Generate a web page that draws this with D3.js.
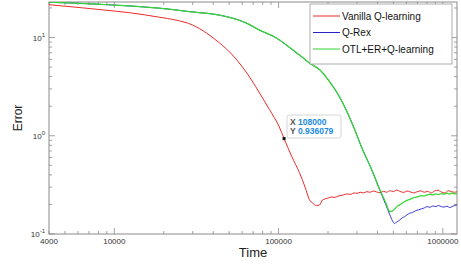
<!DOCTYPE html>
<html>
<head>
<meta charset="utf-8">
<script src="https://cdn.jsdelivr.net/npm/d3@7"></script>
<style>
  body { margin: 0; background: #fff; }
  svg { display: block; font-family: "Liberation Sans", Arial, sans-serif; }
</style>
</head>
<body>
<div id="chart"></div>
<script>
// series as [time, error] pairs
var vanilla = [
  [4000, 21.6], [10000, 18.6], [12350, 17.9], [18800, 16.1], [23500, 15.1],
  [30000, 13.4], [36400, 11.1], [43700, 8.8], [51700, 6.8], [60300, 5.0],
  [68400, 3.7], [76500, 2.73], [88100, 1.84], [101000, 1.23], [108000, 0.936],
  [120000, 0.62], [134000, 0.42], [145000, 0.3], [154000, 0.224], [162000, 0.205],
  [170000, 0.195], [178000, 0.198], [185000, 0.222], [200000, 0.232], [210000, 0.238],
  [220000, 0.236], [230000, 0.243], [240000, 0.247], [250000, 0.251], [262000, 0.256],
  [275000, 0.253], [288000, 0.262], [300000, 0.259], [315000, 0.266], [330000, 0.262],
  [345000, 0.27], [360000, 0.266], [378000, 0.274], [395000, 0.268], [415000, 0.263],
  [435000, 0.272], [455000, 0.266], [478000, 0.276], [500000, 0.27], [525000, 0.28],
  [550000, 0.271], [578000, 0.265], [605000, 0.274], [635000, 0.268], [665000, 0.262],
  [700000, 0.27], [735000, 0.275], [770000, 0.266], [810000, 0.272], [850000, 0.262],
  [890000, 0.274], [935000, 0.279], [980000, 0.268], [1030000, 0.262], [1080000, 0.276],
  [1130000, 0.27], [1180000, 0.266], [1220000, 0.27]
];

var qrex = [
  [4000, 22.9], [10000, 21.4], [18800, 19.9], [30000, 18.2], [43700, 16.9],
  [63800, 14.0], [76600, 11.88], [97200, 9.85], [122000, 7.45], [144000, 6.02],
  [154000, 5.5], [178000, 4.7], [205000, 3.53], [235000, 2.49], [283000, 1.29],
  [325000, 0.72], [369000, 0.452], [413000, 0.281], [449000, 0.2], [475000, 0.158],
  [495000, 0.135], [509000, 0.128], [525000, 0.133], [547000, 0.139], [565000, 0.146],
  [585000, 0.15], [605000, 0.157], [630000, 0.163], [655000, 0.166], [680000, 0.172],
  [710000, 0.176], [740000, 0.18], [770000, 0.184], [800000, 0.19], [835000, 0.187],
  [870000, 0.193], [905000, 0.19], [940000, 0.195], [980000, 0.19], [1020000, 0.188],
  [1060000, 0.192], [1100000, 0.186], [1140000, 0.19], [1180000, 0.195], [1220000, 0.198]
];

var otl = [
  [4000, 22.9], [10000, 21.4], [18800, 19.9], [30000, 18.2], [43700, 16.9],
  [63800, 14.0], [76600, 11.9], [97200, 9.9], [122000, 7.5], [144000, 6.05],
  [154000, 5.5], [178000, 4.7], [205000, 3.53], [235000, 2.49], [283000, 1.29],
  [325000, 0.72], [369000, 0.452], [413000, 0.283], [449000, 0.209], [475000, 0.169],
  [495000, 0.172], [510000, 0.18], [525000, 0.19], [547000, 0.198], [565000, 0.206],
  [585000, 0.214], [605000, 0.22], [630000, 0.226], [655000, 0.232], [680000, 0.236],
  [710000, 0.24], [740000, 0.246], [770000, 0.244], [800000, 0.25], [835000, 0.254],
  [870000, 0.25], [905000, 0.256], [940000, 0.252], [980000, 0.258], [1020000, 0.254],
  [1060000, 0.26], [1100000, 0.255], [1140000, 0.262], [1180000, 0.256], [1220000, 0.26]
];

var seriesNames = ['Vanilla Q-learning', 'Q-Rex', 'OTL+ER+Q-learning'];
var seriesColors = ['#ec2b2b', '#2323c8', '#33d633'];
var seriesWidths = [1, 0.9, 1.25];
var xTickValues = [4000, 10000, 100000, 1000000];
var yTickExps = [1, 0, -1];
var tipPoint = [108000, 0.936079];

var W = 461, H = 269;
var pL = 49, pR = 457, pT = 2, pB = 234;

var svg = d3.select('#chart').append('svg')
  .attr('width', W)
  .attr('height', H);

var x = d3.scaleLog().domain([4000, 1220000]).range([pL, pR]);
var y = d3.scaleLog().domain([0.1, 23]).range([pB, pT]);

var axisColor = '#8a8a8a';

// minor + major tick values
var xMinor = [];
[1000, 10000, 100000].forEach(function (d) {
  for (var k = 1; k < 10; k++) {
    var v = d * k;
    if (v >= 4000 && v <= 1220000) xMinor.push(v);
  }
});
xMinor.push(1000000);
var yMinor = [];
[0.1, 1, 10].forEach(function (d) {
  for (var k = 1; k < 10; k++) {
    var v = d * k;
    if (v >= 0.1 && v <= 23) yMinor.push(v);
  }
});

var axes = svg.append('g');
function isMajor(v) {
  var l = Math.log10(v);
  return Math.abs(l - Math.round(l)) < 1e-9;
}

xMinor.forEach(function (v) {
  var len = isMajor(v) ? 6 : 3;
  axes.append('line').attr('x1', x(v)).attr('x2', x(v)).attr('y1', pB).attr('y2', pB - len)
    .attr('stroke', axisColor).attr('stroke-width', 0.8);
  axes.append('line').attr('x1', x(v)).attr('x2', x(v)).attr('y1', pT).attr('y2', pT + len)
    .attr('stroke', axisColor).attr('stroke-width', 0.8);
});
yMinor.forEach(function (v) {
  var len = isMajor(v) ? 6 : 3;
  axes.append('line').attr('x1', pL).attr('x2', pL + len).attr('y1', y(v)).attr('y2', y(v))
    .attr('stroke', axisColor).attr('stroke-width', 0.8);
  axes.append('line').attr('x1', pR).attr('x2', pR - len).attr('y1', y(v)).attr('y2', y(v))
    .attr('stroke', axisColor).attr('stroke-width', 0.8);
});

axes.append('rect')
  .attr('x', pL).attr('y', pT)
  .attr('width', pR - pL).attr('height', pB - pT)
  .attr('fill', 'none').attr('stroke', axisColor).attr('stroke-width', 1);

// x tick labels
svg.append('g').selectAll('text')
  .data(xTickValues)
  .join('text')
  .attr('x', function (d) { return x(d); })
  .attr('y', pB + 10)
  .attr('text-anchor', 'middle')
  .attr('font-size', 8)
  .attr('fill', '#333')
  .text(function (d) { return d; });

// y tick labels 10^n
var yl = svg.append('g').selectAll('text')
  .data(yTickExps)
  .join('text')
  .attr('x', pL - 4)
  .attr('y', function (d) { return y(Math.pow(10, d)) + 3; })
  .attr('text-anchor', 'end')
  .attr('font-size', 8)
  .attr('fill', '#333');
yl.append('tspan').text('10');
yl.append('tspan').attr('dy', -4).attr('font-size', 6).text(function (d) { return d; });

svg.append('text')
  .attr('x', (pL + pR) / 2)
  .attr('y', 257)
  .attr('text-anchor', 'middle')
  .attr('font-size', 13)
  .attr('fill', '#222')
  .text('Time');

svg.append('text')
  .attr('transform', 'translate(22,' + (pT + pB) / 2 + ') rotate(-90)')
  .attr('text-anchor', 'middle')
  .attr('font-size', 12)
  .attr('fill', '#222')
  .text('Error');

var line = d3.line()
  .curve(d3.curveMonotoneX)
  .x(function (d) { return x(d[0]); })
  .y(function (d) { return y(d[1]); });

svg.append('defs').append('clipPath').attr('id', 'clip')
  .append('rect').attr('x', pL).attr('y', pT).attr('width', pR - pL).attr('height', pB - pT);

var plot = svg.append('g').attr('clip-path', 'url(#clip)');
[vanilla, qrex, otl].forEach(function (s, i) {
  plot.append('path')
    .attr('d', line(s))
    .attr('fill', 'none')
    .attr('stroke', seriesColors[i])
    .attr('stroke-width', seriesWidths[i]);
});

// legend
var legend = svg.append('g');
legend.append('rect')
  .attr('x', 310).attr('y', 4).attr('width', 142).attr('height', 60)
  .attr('fill', '#fff').attr('stroke', '#999').attr('stroke-width', 0.8);
seriesNames.forEach(function (name, i) {
  var ly = 16 + i * 16.5;
  legend.append('line')
    .attr('x1', 313).attr('x2', 340).attr('y1', ly).attr('y2', ly)
    .attr('stroke', seriesColors[i]).attr('stroke-width', 1);
  legend.append('text')
    .attr('x', 342).attr('y', ly + 3.5)
    .attr('font-size', 10).attr('fill', '#111')
    .text(name);
});

// data tip
var tip = svg.append('g');
tip.append('rect')
  .attr('x', 287).attr('y', 115).attr('width', 54).attr('height', 23).attr('rx', 2)
  .attr('fill', '#fff').attr('stroke', '#ccc').attr('stroke-width', 0.8);
var tipRows = [['X', tipPoint[0]], ['Y', tipPoint[1]]];
tipRows.forEach(function (r, i) {
  var t = tip.append('text')
    .attr('x', 290).attr('y', 125 + i * 9)
    .attr('font-size', 8.5).attr('font-weight', 'bold');
  t.append('tspan').attr('fill', '#555').text(r[0] + ' ');
  t.append('tspan').attr('fill', '#1a8ae6').text(r[1]);
});
tip.append('rect')
  .attr('x', x(tipPoint[0]) - 1.5).attr('y', y(tipPoint[1]) - 1.5)
  .attr('width', 3).attr('height', 3).attr('fill', '#111');
</script>
</body>
</html>
